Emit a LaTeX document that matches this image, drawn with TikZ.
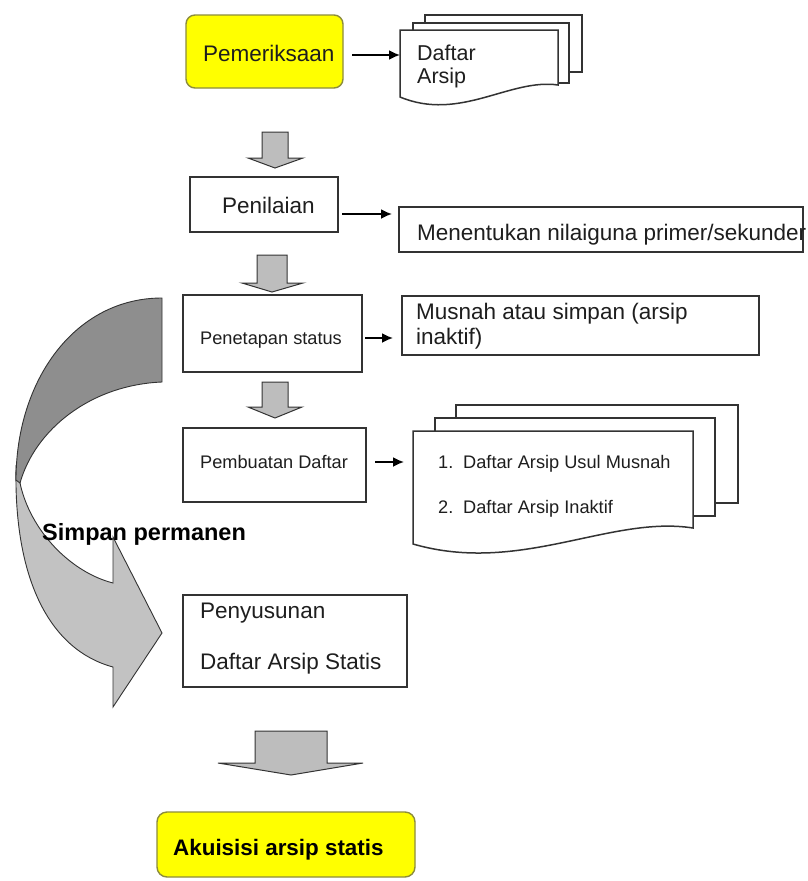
\documentclass[tikz,border=0pt]{standalone}
\usepackage{fontspec}
\setmainfont{Liberation Sans}
\usetikzlibrary{arrows.meta}
\definecolor{ink}{HTML}{333333}
\definecolor{txt}{HTML}{1E1E1E}
\definecolor{blockgray}{HTML}{BDBDBD}
\definecolor{darkband}{HTML}{8E8E8E}
\definecolor{lightband}{HTML}{C2C2C2}
\definecolor{yel}{HTML}{FFFF00}
\definecolor{yelborder}{HTML}{8C8C3C}
\tikzset{
  box/.style={draw=ink, line width=1.5pt, fill=white, inner sep=0pt, outer sep=0pt},
  ybox/.style={draw=yelborder, line width=1.4pt, fill=yel, rounded corners=9pt, inner sep=0pt, outer sep=0pt},
  lbl/.style={anchor=base west, inner sep=0pt, text=txt, font=\fontsize{22.5}{26}\selectfont},
  slbl/.style={lbl, font=\fontsize{18.2}{22}\selectfont},
  blbl/.style={lbl, font=\bfseries\fontsize{22.4}{26}\selectfont},
  thinarrow/.style={draw=black, line width=1.8pt, -{Latex[length=11pt,width=10pt]}},
  blockarrow/.style={draw=ink, line width=1pt, fill=blockgray},
  page/.style={draw=ink, line width=1.5pt, fill=white},
  band/.style={draw=ink, line width=0.9pt},
}
\newcommand\downblock[7]{%
  \draw[blockarrow] (#1,#3) -- (#2,#3) -- (#2,#4) -- (#6,#4) -- ({(#1+#2)/2},#7) -- (#5,#4) -- (#1,#4) -- cycle;}
\begin{document}
\begin{tikzpicture}[x=1pt,y=-1pt]
\useasboundingbox (0,0) rectangle (808,881);
\fill[white] (0,0) rectangle (808,881);

% big curved arrow
\draw[band, fill=lightband] (16,468) .. controls (14,580) and (50,650) .. (113,667) -- (113,707) -- (162,633) -- (113,537) -- (113,583) .. controls (70,572) and (30,530) .. (20,483) -- cycle;
\draw[band, fill=darkband] (162,298) .. controls (75,298) and (16,380) .. (16,480) -- (20,483) .. controls (35,430) and (90,385) .. (162,382) -- cycle;
\node[blbl, font=\bfseries\fontsize{23.5}{26}\selectfont, text=black] (simpan) at (42,540) {Simpan permanen};

% Pemeriksaan
\node[ybox, minimum width=157pt, minimum height=73pt] (pem) at (264.5,51.5) {};
\node[lbl] (pemT) at (203,61) {Pemeriksaan};
\draw[page] (425,15) rectangle (582,72);
\draw[page] (413,23) rectangle (569,83);
\draw[page] (400,30) -- (558,30) -- (558,85) .. controls (510,78) and (460,122) .. (400,97) -- cycle;
\node[lbl, font=\fontsize{21.5}{26}\selectfont] (daf1) at (417,60) {Daftar};
\node[lbl, font=\fontsize{21.5}{26}\selectfont] (daf2) at (417,83) {Arsip};
\coordinate (dfront) at (400,55);
\draw[thinarrow, shorten <=9pt] (pem.east |- dfront) -- (dfront);

% arrow 1
\downblock{262}{288}{132}{158}{248}{303}{168}

% Penilaian
\node[box, minimum width=148pt, minimum height=55pt] (pen) at (264,204.5) {};
\node[lbl] (penT) at (222,213) {Penilaian};
\node[box, minimum width=404pt, minimum height=45pt] (ment) at (601,229.5) {};
\node[lbl] (mentT) at (417,240) {Menentukan nilaiguna primer/sekunder};
\coordinate (r1) at (0,214);
\draw[thinarrow, shorten <=4pt, shorten >=7pt] (pen.east |- r1) -- (ment.west |- r1);

% arrow 2
\downblock{257}{287}{255}{283}{242}{303}{292}

% Penetapan status
\node[box, minimum width=179pt, minimum height=77pt] (pet) at (272.5,333.5) {};
\node[slbl] (petT) at (200,344.5) {Penetapan status};
\node[box, minimum width=357pt, minimum height=59pt] (mus) at (580.5,325.5) {};
\node[lbl] (musT1) at (416,319) {Musnah atau simpan (arsip};
\node[lbl] (musT2) at (416,344) {inaktif)};
\coordinate (r2) at (0,338);
\draw[thinarrow, shorten <=3pt, shorten >=9pt] (pet.east |- r2) -- (mus.west |- r2);

% arrow 3
\downblock{262}{288}{382}{407}{248}{302}{418}

% Pembuatan Daftar
\node[box, minimum width=183pt, minimum height=74pt] (pbd) at (274.5,465) {};
\node[slbl] (pbdT) at (200,468.5) {Pembuatan Daftar};
\draw[page] (456,405) rectangle (738,503);
\draw[page] (435,418) rectangle (715,516);
\draw[page] (413,431) -- (693,431) -- (693,528) .. controls (610,515) and (520,575) .. (413,544) -- cycle;
\node[slbl] (l1n) at (438,468) {1.};
\node[slbl] (l1) at (463,468) {Daftar Arsip Usul Musnah};
\node[slbl] (l2n) at (438,513) {2.};
\node[slbl] (l2) at (463,513) {Daftar Arsip Inaktif};
\coordinate (sfront) at (413,462);
\draw[thinarrow, shorten <=9pt, shorten >=9pt] (pbd.east |- sfront) -- (sfront);

% Penyusunan
\node[box, minimum width=224pt, minimum height=92pt] (pny) at (295,641) {};
\node[lbl] (pnyT1) at (200,618) {Penyusunan};
\node[lbl] (pnyT2) at (200,669) {Daftar Arsip Statis};

% bottom arrow
\downblock{255}{327}{731}{763}{218}{363}{775}

% Akuisisi
\node[ybox, rounded corners=10pt, minimum width=258pt, minimum height=65pt] (aku) at (286,844.5) {};
\node[blbl, text=black] (akuT) at (173,855) {Akuisisi arsip statis};
\end{tikzpicture}
\end{document}
